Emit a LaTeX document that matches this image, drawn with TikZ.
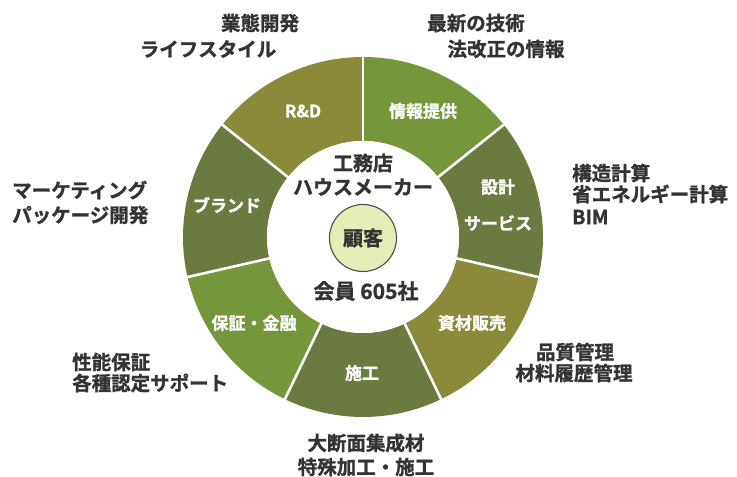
\documentclass[tikz,border=0pt]{standalone}
\usepackage{fontspec}
\usetikzlibrary{calc}
\setmainfont{Noto Sans CJK JP}
\newfontfamily\jpb{Noto Sans CJK JP Bold}[FakeBold=1.2]
\definecolor{olivec}{HTML}{8A8A3A}
\definecolor{greenc}{HTML}{76963C}
\definecolor{darkc}{HTML}{6B7A3F}
\definecolor{txt}{HTML}{333333}
\definecolor{coreFill}{HTML}{E3EDB6}
\tikzset{
  outlbl/.style={text=txt, font=\jpb\fontsize{19.5}{22}\selectfont, inner sep=0pt},
  seglbl/.style={text=white, font=\jpb\fontsize{17}{20}\selectfont, inner sep=0pt},
  cenlbl/.style={text=txt, font=\jpb\fontsize{20}{23}\selectfont, inner sep=0pt},
}
\begin{document}
\begin{tikzpicture}[x=1pt,y=1pt]
\useasboundingbox (0,0) rectangle (737,477);
\fill[white] (0,0) rectangle (737,477);
\coordinate (C) at (363,240);
\def\Ro{180}
\def\Ri{96}
% segments
\foreach \a/\col in {141.43/olivec, 90/greenc, 38.57/darkc, -12.86/olivec, -64.29/darkc, -115.71/greenc, -167.14/darkc}{
  \pgfmathsetmacro{\b}{\a-51.4286}
  \fill[\col] ($(C)+(\a:\Ro)$) arc[start angle=\a, end angle=\b, radius=\Ro]
     -- ($(C)+(\b:\Ri)$) arc[start angle=\b, end angle=\a, radius=\Ri] -- cycle;
}
\foreach \a in {141.43, 90, 38.57, -12.86, -64.29, -115.71, -167.14}{
  \draw[white, line width=2.6pt] (C) -- ++(\a:\Ro+2);
}
\fill[white] (C) circle[radius=\Ri];
% core
\node[circle, draw=black!70, line width=1.1pt, fill=coreFill, minimum size=67pt, inner sep=0pt] (core) at (363,239) {};
\node[cenlbl] (kokyaku) at (core) {顧客};
\node[cenlbl] (koumu) at (363,314) {工務店};
\node[cenlbl] (house) at (363,290) {ハウスメーカー};
\node[cenlbl, font=\jpb\fontsize{21}{24}\selectfont] (kaiin) at (366,186) {会員 605社};
% segment labels
\node[seglbl] (rd) at (303,366) {R\&D};
\node[seglbl] (joho) at (423,366) {情報提供};
\node[seglbl] (sekkei) at (498,290) {設計};
\node[seglbl] (service) at (498,254) {サービス};
\node[seglbl] (shizai) at (472,154) {資材販売};
\node[seglbl] (seko) at (362,104) {施工};
\node[seglbl] (hosho) at (254,154) {保証・金融};
\node[seglbl] (brand) at (227,272) {ブランド};
% outer labels
\node[outlbl] (o1a) at (260,454) {業態開発};
\node[outlbl] (o1b) at (208,428) {ライフスタイル};
\node[outlbl] (o2a) at (476,454) {最新の技術};
\node[outlbl] (o2b) at (506,428) {法改正の情報};
\node[outlbl, anchor=west] (o3a) at (572,304) {構造計算};
\node[outlbl, anchor=west] (o3b) at (572,283) {省エネルギー計算};
\node[outlbl, anchor=west] (o3c) at (572,260) {BIM};
\node[outlbl] (o4a) at (575,125) {品質管理};
\node[outlbl] (o4b) at (574,104) {材料履歴管理};
\node[outlbl] (o5a) at (366,34) {大断面集成材};
\node[outlbl] (o5b) at (366,10) {特殊加工・施工};
\node[outlbl, anchor=west] (o6a) at (72,115) {性能保証};
\node[outlbl, anchor=west] (o6b) at (72,94) {各種認定サポート};
\node[outlbl, anchor=west] (o7a) at (12,287) {マーケティング};
\node[outlbl, anchor=west] (o7b) at (12,262) {パッケージ開発};
\end{tikzpicture}
\end{document}
